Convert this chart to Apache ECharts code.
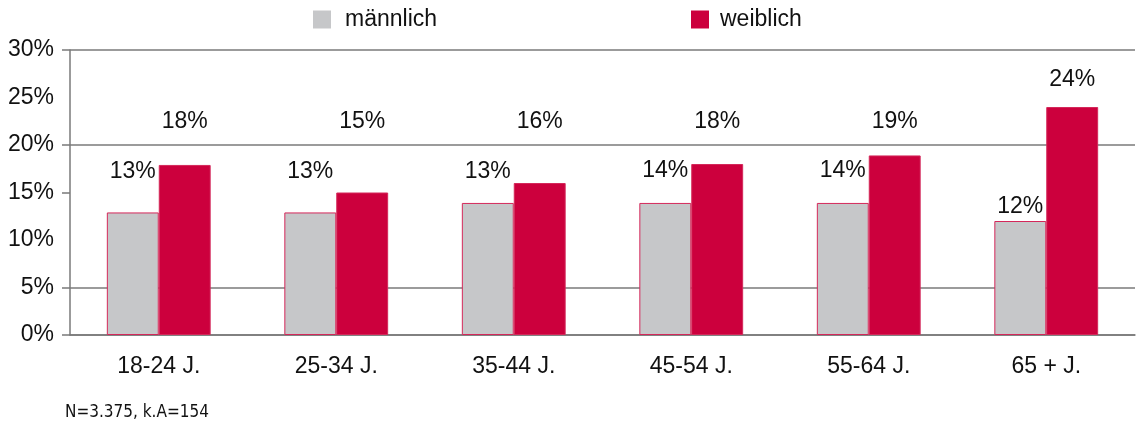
<!DOCTYPE html>
<html>
<head>
<meta charset="utf-8">
<script src="https://cdn.jsdelivr.net/npm/echarts@6/dist/echarts.min.js"></script>
<style>
  html, body { margin: 0; padding: 0; background: #fff; }
  #chart { width: 1140px; height: 426px; }
</style>
</head>
<body>
<div id="chart"></div>
<script>
// age groups
var categories = ['18-24 J.', '25-34 J.', '35-44 J.', '45-54 J.', '55-64 J.', '65 + J.'];
// bar heights (%)
var maennlich = [12.9, 12.9, 13.9, 13.9, 13.9, 12.0];
var weiblich = [17.9, 15.0, 16.0, 18.0, 18.9, 24.0];
// printed labels (%)
var maennlichText = [13, 13, 13, 14, 14, 12];
var weiblichText = [18, 15, 16, 18, 19, 24];
var yTicks = [0, 5, 15, 20, 30];

// labels sit in fixed rows in the original, so shift them a bit
var maleShift = [-24, -24, -14.5, -15.5, -15.5, 2.5];
var femaleShift = [-26.5, -54, -44.5, -25.5, -17, -10.5];

var font = 'Liberation Sans, Arial, sans-serif';
var fs = 23;
var grid = '#7a7a7a';

function barData(vals, shifts) {
	return vals.map(function (v, i) {
		return { value: v, label: { offset: [0, shifts[i]] } };
	});
}

var chart = echarts.init(document.getElementById('chart'));
chart.setOption({
	animation: false,
	backgroundColor: '#ffffff',
	legend: [
		{
			data: ['männlich'], left: 313, top: 8, padding: 0,
			itemWidth: 18, itemHeight: 18, icon: 'rect',
			itemStyle: { borderWidth: 0 },
			textStyle: { fontFamily: font, fontSize: fs, color: '#111', padding: [0, 0, 0, 9] }
		},
		{
			data: ['weiblich'], left: 691, top: 8, padding: 0,
			itemWidth: 18, itemHeight: 18, icon: 'rect',
			itemStyle: { borderWidth: 0 },
			textStyle: { fontFamily: font, fontSize: fs, color: '#111', padding: [0, 0, 0, 6] }
		}
	],
	grid: { left: 70, right: 5, top: 50, bottom: 91 },
	xAxis: {
		type: 'category',
		data: categories,
		axisLine: { lineStyle: { color: grid, width: 1.5 } },
		axisTick: { length: 11, lineStyle: { color: grid, width: 1.5 } },
		axisLabel: { fontFamily: font, fontSize: fs, color: '#111', margin: 20 }
	},
	yAxis: {
		type: 'value',
		min: 0, max: 30, interval: 5,
		axisLine: { show: true, lineStyle: { color: grid, width: 1.5 } },
		axisTick: { show: true, length: 8, customValues: yTicks, lineStyle: { color: grid, width: 1.5 } },
		axisLabel: { fontFamily: font, fontSize: fs, color: '#111', margin: 16, formatter: '{value}%' },
		splitLine: {
			show: true,
			lineStyle: { color: [grid, grid, 'rgba(0,0,0,0)', grid, grid, 'rgba(0,0,0,0)', grid], width: 1.5 }
		}
	},
	series: [
		{
			name: 'männlich', type: 'bar',
			data: barData(maennlich, maleShift),
			barGap: '0%', barCategoryGap: '41.5%',
			itemStyle: { color: '#c6c7c9', borderColor: '#d4285a', borderWidth: 1 },
			label: {
				show: true, position: 'top', distance: 5,
				fontFamily: font, fontSize: fs, color: '#111',
				formatter: function (p) { return maennlichText[p.dataIndex] + '%'; }
			}
		},
		{
			name: 'weiblich', type: 'bar',
			data: barData(weiblich, femaleShift),
			barGap: '0%', barCategoryGap: '41.5%',
			itemStyle: { color: '#cc003d', borderColor: '#d4285a', borderWidth: 1 },
			label: {
				show: true, position: 'top', distance: 5,
				fontFamily: font, fontSize: fs, color: '#111',
				formatter: function (p) { return weiblichText[p.dataIndex] + '%'; }
			}
		}
	],
	graphic: [
		{
			type: 'text', left: 65, top: 404,
			style: { text: 'N=3.375, k.A=154', fontFamily: 'DejaVu Sans Condensed, DejaVu Sans', fontSize: 17, fill: '#111' }
		}
	]
});
</script>
</body>
</html>
